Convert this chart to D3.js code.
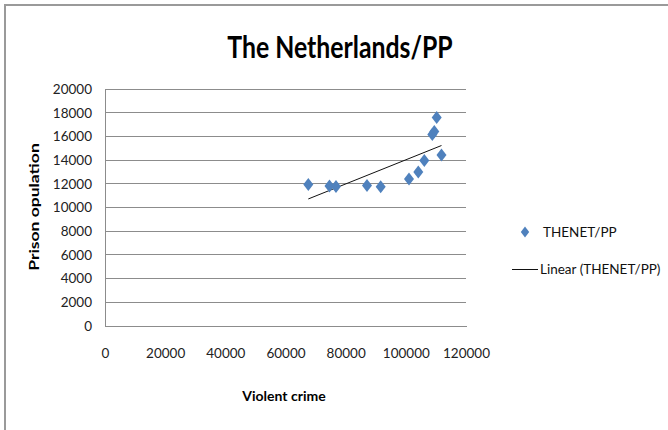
<!DOCTYPE html>
<html><head><meta charset="utf-8">
<script src="https://cdn.jsdelivr.net/npm/d3@7/dist/d3.min.js"></script>
<style>html,body{margin:0;padding:0;background:#fff;overflow:hidden}</style>
</head><body>
<svg id="c" width="668" height="430"></svg>
<script>
const title = "The Netherlands/PP";
const xLabel = "Violent crime";
const yLabel = "Prison opulation";
const seriesName = "THENET/PP";
const trendName = "Linear (THENET/PP)";
const violentCrime = [67580, 74620, 76780, 87090, 91640, 101050, 104140, 106140, 108800, 109460, 110260, 111850];
const prisonPop   = [11940, 11816, 11774, 11858, 11757, 12407, 13000, 13970, 16160, 16415, 17600, 14430];
const xTicks = [0, 20000, 40000, 60000, 80000, 100000, 120000];
const yTicks = [0, 2000, 4000, 6000, 8000, 10000, 12000, 14000, 16000, 18000, 20000];

const svg = d3.select("#c");
const font = "Lato, 'Open Sans', sans-serif";
const blue = "#4F81BD";

// outer chart border
svg.append("rect").attr("x",5).attr("y",5).attr("width",720).attr("height",500)
  .attr("fill","none").attr("stroke","#9a9a9a").attr("stroke-width",2);

const L=105, R=466, T=89, B=326;
const x = d3.scaleLinear().domain([0,120000]).range([L,R]);
const y = d3.scaleLinear().domain([0,20000]).range([B,T]);

// gridlines
svg.append("g").selectAll("line").data(yTicks.slice(1)).join("line")
  .attr("x1",L).attr("x2",R).attr("y1",d=>y(d)).attr("y2",d=>y(d))
  .attr("stroke","#8c8c8c").attr("stroke-width",1).attr("shape-rendering","crispEdges");

// axes
const yAxis = svg.append("g").attr("transform",`translate(${L},0)`)
  .call(d3.axisLeft(y).tickValues(yTicks).tickSize(0).tickPadding(13).tickFormat(d3.format("d")));
const xAxis = svg.append("g").attr("transform",`translate(0,${B})`)
  .call(d3.axisBottom(x).tickValues(xTicks).tickSize(0).tickPadding(22).tickFormat(d3.format("d")));
[yAxis,xAxis].forEach(a=>{
  a.select(".domain").attr("stroke","#8c8c8c").attr("shape-rendering","crispEdges");
  a.selectAll("text").attr("font-family",font).attr("font-size",13.5).attr("fill","#222");
});

// trend line via least squares
const n = violentCrime.length;
const mx = d3.mean(violentCrime), my = d3.mean(prisonPop);
let sxy=0, sxx=0;
for(let i=0;i<n;i++){ sxy+=(violentCrime[i]-mx)*(prisonPop[i]-my); sxx+=(violentCrime[i]-mx)**2; }
const slope = sxy/sxx, icpt = my - slope*mx;
const xr = d3.extent(violentCrime);
svg.append("path").datum(xr.map(v=>[v, icpt+slope*v]))
  .attr("d", d3.line().x(d=>x(d[0])).y(d=>y(d[1])))
  .attr("stroke","#111").attr("stroke-width",1).attr("fill","none");

// diamond symbol
const diamond = { draw(ctx, size){ const w=5, h=6.5; ctx.moveTo(0,-h); ctx.lineTo(w,0); ctx.lineTo(0,h); ctx.lineTo(-w,0); ctx.closePath(); } };
svg.append("g").selectAll("path").data(violentCrime.map((v,i)=>[v,prisonPop[i]])).join("path")
  .attr("d", d3.symbol().type(diamond))
  .attr("transform", d=>`translate(${x(d[0])},${y(d[1])})`)
  .attr("fill", blue);

// title
svg.append("text").attr("transform","translate(340,58) scale(0.8,1)").attr("text-anchor","middle")
  .attr("font-family",font).attr("font-weight","bold").attr("font-size",31).attr("fill","#000")
  .text(title);

// axis titles
svg.append("text").attr("x",284).attr("y",401).attr("text-anchor","middle")
  .attr("font-family",font).attr("font-weight","bold").attr("font-size",14).attr("fill","#000").text(xLabel);
svg.append("text").attr("transform","translate(39,207) rotate(-90) scale(1.25,1)").attr("text-anchor","middle")
  .attr("font-family",font).attr("font-weight","bold").attr("font-size",14).attr("fill","#000").text(yLabel);

// legend
const lg = svg.append("g");
lg.append("path").attr("d", d3.symbol().type({draw(ctx){ctx.moveTo(0,-5.5);ctx.lineTo(4.2,0);ctx.lineTo(0,5.5);ctx.lineTo(-4.2,0);ctx.closePath();}}))
  .attr("transform","translate(525,232)").attr("fill",blue);
lg.append("text").attr("x",543).attr("y",236.5).attr("font-family",font).attr("font-size",13.5).attr("fill","#111").text(seriesName);
lg.append("line").attr("x1",512).attr("x2",538).attr("y1",269.5).attr("y2",269.5).attr("stroke","#111").attr("stroke-width",1);
lg.append("text").attr("x",540).attr("y",274).attr("font-family",font).attr("font-size",13.5).attr("fill","#111").text(trendName);
</script>
</body></html>
